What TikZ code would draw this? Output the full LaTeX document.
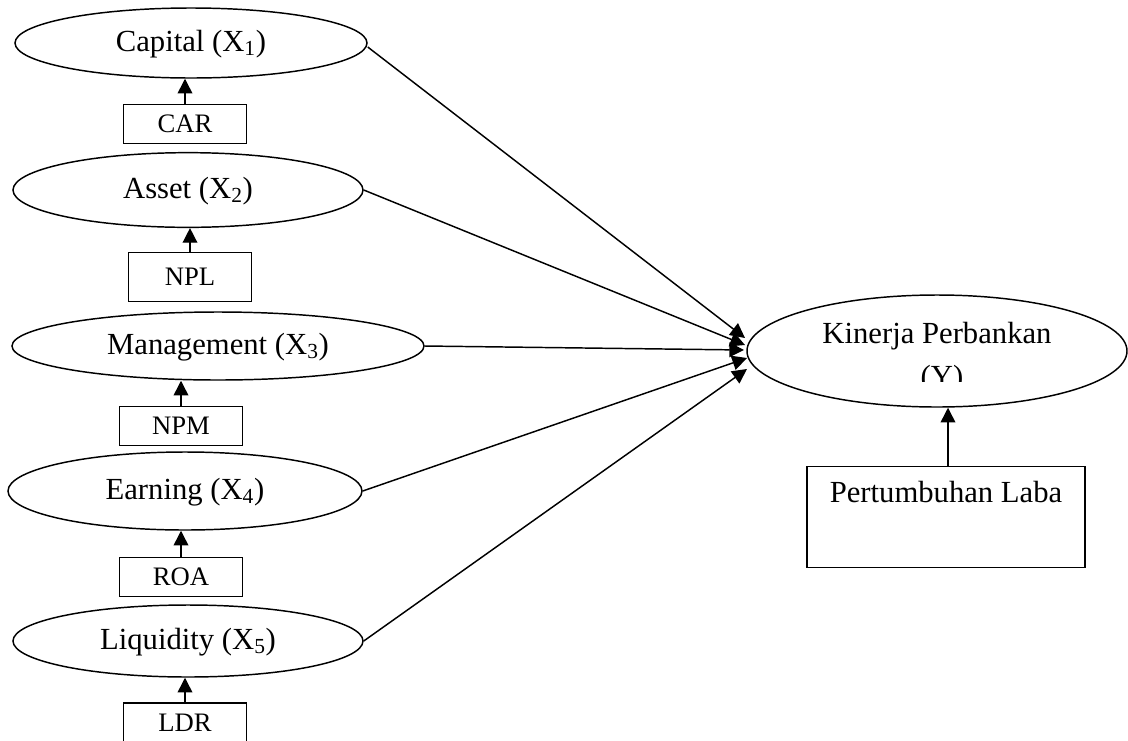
\documentclass[tikz,border=0pt]{standalone}
\usepackage{fontspec}
\setmainfont{Liberation Serif}
\usepackage{tikz}
\usetikzlibrary{calc,shapes.geometric,arrows.meta}

\begin{document}
\begin{tikzpicture}[
x=0.75pt, y=-0.75pt,
V/.style={ellipse, draw, line width=1.1pt, inner sep=0pt,
font=\fontsize{23}{27}\selectfont, text height=15pt, text depth=3pt},
I/.style={rectangle, draw, line width=1.1pt, inner sep=0pt, minimum width=92pt,
minimum height=29pt, font=\fontsize{20}{24}\selectfont},
A/.style={-{Triangle[width=11pt,length=11pt]}, line width=1.1pt},
]
	\useasboundingbox (0,0) rectangle (1128,740);
	% latent variables
	\node[V, minimum width=264pt, minimum height=52.5pt] (Cap) at (191,43)
	{Capital (X\textsubscript{1})};
	\node[V, minimum width=262.5pt, minimum height=56pt] (Ast) at (188,190)
	{Asset (X\textsubscript{2})};
	\node[V, minimum width=309pt, minimum height=51pt] (Mgt) at (218,346)
	{Management (X\textsubscript{3})};
	\node[V, minimum width=265.5pt, minimum height=58.5pt] (Ear) at (185,491)
	{Earning (X\textsubscript{4})};
	\node[V, minimum width=262.5pt, minimum height=54pt] (Liq) at (188,641)
	{Liquidity (X\textsubscript{5})};
	\node[
	V,
	minimum width=285pt,
	minimum height=84pt,
	text depth=27pt,
	] (Y) at (937,351)
	{Kinerja Perbankan};
	\begin{scope}
		\clip (840,355) rectangle (1040,381);
		\node[anchor=base, font=\fontsize{23}{27}\selectfont] (Ylbl) at (942,386) {(Y)};
	\end{scope}

	% indicators
	\node[I] (CAR) at ($ (Cap) + (-6,81) $) {CAR};
	\node[I, minimum height=36.75pt] (NPL) at ($ (Ast) + (2,87) $) {NPL};
	\node[I] (NPM) at ($ (Mgt) + (-37,80) $) {NPM};
	\node[I] (ROA) at ($ (Ear) + (-4,86) $) {ROA};
	\node[I, minimum height=30pt] (LDR) at ($ (Liq) + (-3,82) $) {LDR};
	\node[
	I,
	anchor=north,
	minimum width=208.5pt,
	inner ysep=12pt,
	text height=15pt,
	text depth=36.75pt,
	font=\fontsize{23}{27}\selectfont,
	] (PL) at (946,466)
	{Pertumbuhan Laba};

	\draw[A] (CAR.north) -- (CAR.north |- Cap.south);
	\draw[A] (NPL.north) -- (NPL.north |- Ast.south);
	\draw[A] (NPM.north) -- (NPM.north |- Mgt.south);
	\draw[A] (ROA.north) -- (ROA.north |- Ear.south);
	\draw[A] (LDR.north) -- (LDR.north |- Liq.south);
	\draw[A] ($ (PL.north) + (2,0) $) -- ($ (PL.north |- Y.south) + (2,0) $);

	\coordinate (t1) at (745,338);
	\coordinate (t2) at (745,345);
	\coordinate (t3) at (744,350);
	\coordinate (t4) at (747,358);
	\coordinate (t5) at (747,369);
	\draw[A] (Cap.east) ++(0,4) -- (t1);
	\draw[A] (Ast.east) -- (t2);
	\draw[A] (Mgt.east) -- (t3);
	\draw[A] (Ear.east) -- (t4);
	\draw[A] (Liq.east) -- (t5);
\end{tikzpicture}
\end{document}
